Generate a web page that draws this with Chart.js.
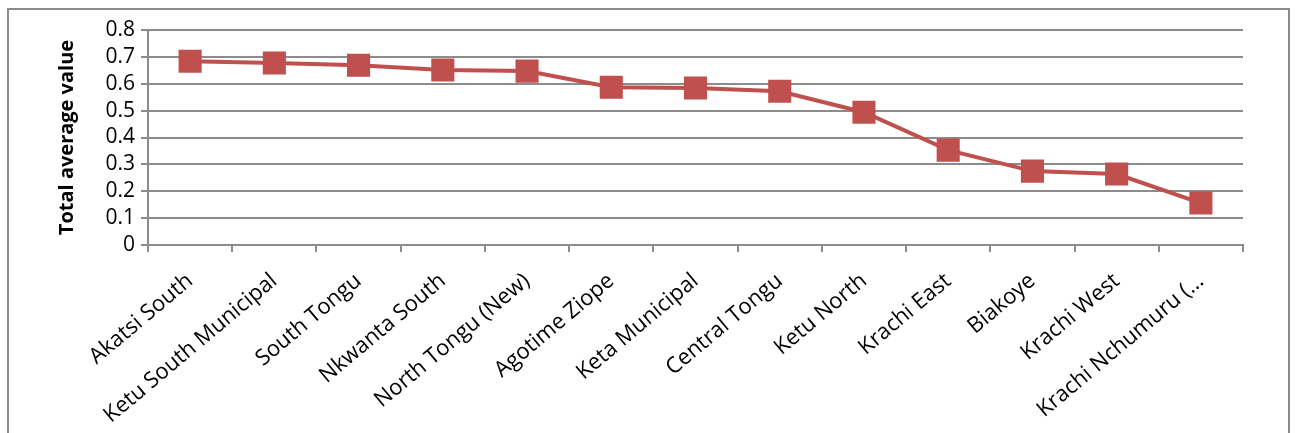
<!DOCTYPE html>
<html>
<head>
<meta charset="utf-8">
<script src="https://cdn.jsdelivr.net/npm/chart.js@4.4.0/dist/chart.umd.min.js"></script>
<style>
  html, body { margin: 0; padding: 0; background: #fff; }
  #frame { position: absolute; left: 7px; top: 8px; width: 1279px; height: 440px; border: 2px solid #8c8c8c; }
  #wrap { position: absolute; left: 0; top: 0; width: 1295px; height: 433px; }
</style>
</head>
<body>
<div id="frame"></div>
<div id="wrap"><canvas id="lineChart"></canvas></div>
<script>
const districts = ['Akatsi South', 'Ketu South Municipal', 'South Tongu', 'Nkwanta South',
    'North Tongu (New)', 'Agotime Ziope', 'Keta Municipal', 'Central Tongu', 'Ketu North',
    'Krachi East', 'Biakoye', 'Krachi West', 'Krachi Nchumuru (\u2026'];
const avgValues = [0.684, 0.677, 0.669, 0.651, 0.647, 0.587, 0.584, 0.572, 0.494, 0.353, 0.275, 0.264, 0.156];
const yTicks = [0, 0.1, 0.2, 0.3, 0.4, 0.5, 0.6, 0.7, 0.8];

const ctx = document.getElementById('lineChart').getContext('2d');
new Chart(ctx, {
    type: 'line',
    data: {
        labels: districts,
        datasets: [{
            label: 'Total average value',
            data: avgValues,
            borderColor: '#c0504d',
            backgroundColor: '#c0504d',
            borderWidth: 4,
            pointStyle: 'rect',
            pointRadius: 13.5,
            pointHoverRadius: 13.5,
            tension: 0
        }]
    },
    options: {
        responsive: true,
        maintainAspectRatio: false,
        animation: false,
        layout: { padding: { top: 30, right: 52, left: 55, bottom: 0 } },
        plugins: { legend: { display: false }, tooltip: { enabled: false } },
        scales: {
            x: {
                offset: true,
                grid: { offset: true, drawOnChartArea: false, color: '#8c8c8c', lineWidth: 2, tickLength: 7 },
                border: { color: '#8c8c8c', width: 2 },
                ticks: {
                    color: '#000', autoSkip: false, minRotation: 40, maxRotation: 40,
                    font: { family: 'Open Sans', size: 22 }, padding: 16
                },
                afterFit: function (scale) { scale.height = 433 - 245; }
            },
            y: {
                min: 0, max: 0.8,
                afterBuildTicks: function (scale) { scale.ticks = yTicks.map(v => ({ value: v })); },
                grid: { color: '#8c8c8c', lineWidth: 2, tickLength: 7 },
                border: { color: '#8c8c8c', width: 2 },
                ticks: {
                    color: '#000', padding: 6, autoSkip: false,
                    font: { family: 'Open Sans', size: 21 },
                    callback: v => String(Math.round(v * 10) / 10)
                },
                title: {
                    display: true, text: 'Total average value', color: '#000',
                    font: { family: 'Open Sans', size: 20, weight: 'bold' }, padding: 0
                },
                afterFit: function (scale) { scale.width = 93; }
            }
        }
    }
});
</script>
</body>
</html>
